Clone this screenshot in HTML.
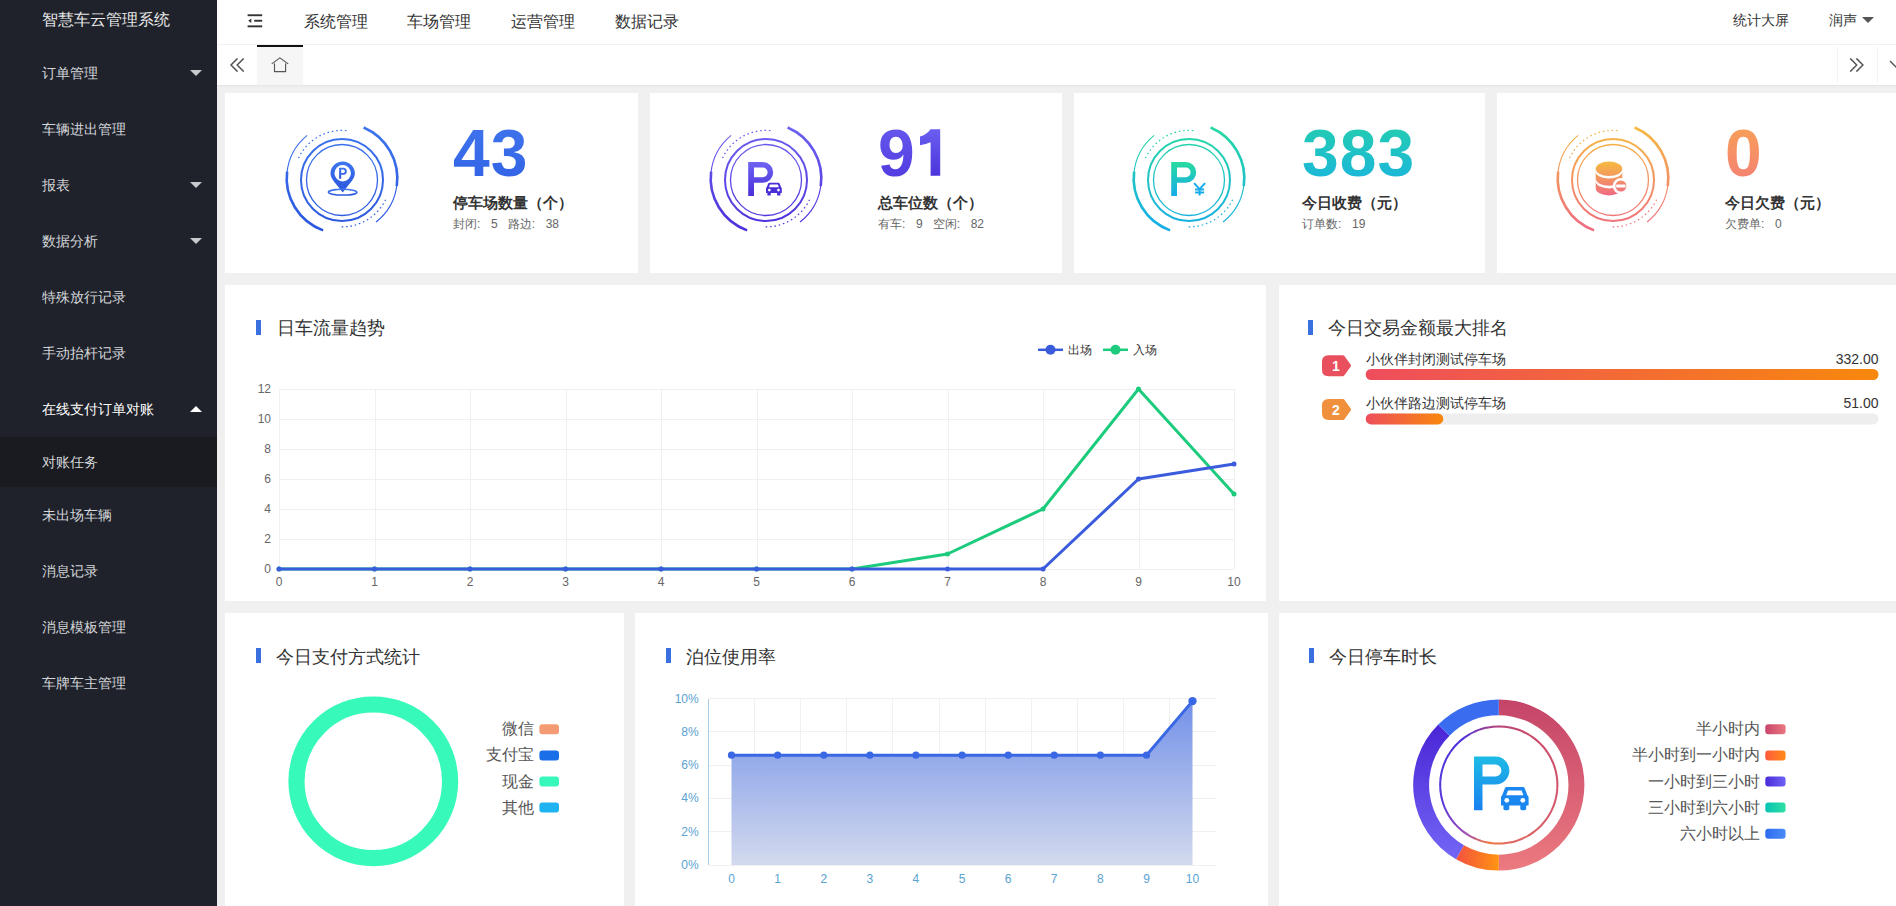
<!DOCTYPE html>
<html>
<head>
<meta charset="utf-8">
<style>
*{box-sizing:border-box;margin:0;padding:0;}
html,body{width:1896px;height:906px;overflow:hidden;background:#f0f0f0;font-family:"Liberation Sans",sans-serif;}
.abs{position:absolute;}
#side{position:absolute;left:0;top:0;width:217px;height:906px;background:#1f222a;}
#logo{position:absolute;left:0;top:0;width:217px;height:45px;color:#e8e8e8;font-size:16px;line-height:40px;padding-left:42px;}
.mi{position:absolute;left:0;width:217px;height:56px;line-height:56px;padding-left:42px;font-size:14px;color:#d4d6da;}
.mi.act{color:#fff;}
.mi .ar{position:absolute;left:190px;top:25px;width:0;height:0;border-left:6px solid transparent;border-right:6px solid transparent;border-top:6px solid #c8cacf;}
.mi .ar.up{border-top:none;border-bottom:6px solid #fff;}
.sub{position:absolute;left:0;width:217px;height:50px;line-height:50px;padding-left:42px;font-size:14px;color:#d4d6da;background:#1a1b20;}
#hdr{position:absolute;left:217px;top:0;width:1679px;height:45px;background:#fff;border-bottom:1px solid #f2f2f2;}
.nav{position:absolute;top:0;line-height:43px;font-size:16px;color:#333;}
#tabs{position:absolute;left:217px;top:45px;width:1679px;height:40px;background:#fff;box-shadow:0 1px 2px rgba(0,0,0,.06);}
.card{position:absolute;background:#fff;overflow:hidden;}
.num{position:absolute;font-size:66px;font-weight:bold;line-height:80px;letter-spacing:0px;}
.stt{position:absolute;font-size:15px;font-weight:bold;color:#333;line-height:20px;white-space:nowrap;}
.sts{position:absolute;font-size:12px;color:#666;line-height:16px;white-space:nowrap;}
.ttl{position:absolute;font-size:18px;color:#333;line-height:24px;white-space:nowrap;}
.bar{position:absolute;width:5px;height:15px;background:#3a6fe0;}
</style>
</head>
<body>
<div id="side">
  <div id="logo">智慧车云管理系统</div>
  <div class="mi" style="top:45px">订单管理<i class="ar"></i></div>
  <div class="mi" style="top:101px">车辆进出管理</div>
  <div class="mi" style="top:157px">报表<i class="ar"></i></div>
  <div class="mi" style="top:213px">数据分析<i class="ar"></i></div>
  <div class="mi" style="top:269px">特殊放行记录</div>
  <div class="mi" style="top:325px">手动抬杆记录</div>
  <div class="mi act" style="top:381px">在线支付订单对账<i class="ar up"></i></div>
  <div class="sub" style="top:437px">对账任务</div>
  <div class="mi" style="top:487px">未出场车辆</div>
  <div class="mi" style="top:543px">消息记录</div>
  <div class="mi" style="top:599px">消息模板管理</div>
  <div class="mi" style="top:655px">车牌车主管理</div>
</div>
<div id="hdr">
  <svg class="abs" style="left:30px;top:14px" width="16" height="14" viewBox="0 0 16 14"><rect x="0.6" y="0.3" width="14.6" height="1.9" fill="#333"/><rect x="7.2" y="5.8" width="8" height="1.9" fill="#333"/><rect x="0.6" y="11.4" width="14.6" height="1.9" fill="#333"/><path d="M1.2 6.8 L4.3 4.6 L4.3 9 Z" fill="#333"/></svg>
  <div class="nav" style="left:87px">系统管理</div>
  <div class="nav" style="left:190px">车场管理</div>
  <div class="nav" style="left:294px">运营管理</div>
  <div class="nav" style="left:398px">数据记录</div>
  <div class="nav" style="left:1516px;font-size:14px;line-height:40px">统计大屏</div>
  <div class="nav" style="left:1612px;font-size:14px;line-height:40px">润声</div>
  <i class="abs" style="left:1645px;top:17px;width:0;height:0;border-left:6px solid transparent;border-right:6px solid transparent;border-top:6px solid #555"></i>
</div>
<div id="tabs">
  <svg class="abs" style="left:12px;top:13px" width="16" height="14" viewBox="0 0 15 14"><path d="M8 0.4 L1.5 7 L8 13.6 M14.2 0.4 L7.7 7 L14.2 13.6" fill="none" stroke="#555" stroke-width="1.5"/></svg>
  <div class="abs" style="left:40px;top:0;width:46px;height:40px;background:#f6f6f6;border-top:2px solid #111"></div>
  <svg class="abs" style="left:54px;top:12px" width="18" height="16" viewBox="0 0 18 16"><path d="M1.1 6.6 L8.9 0.9 L16.8 6.6 M3.5 6.9 V14.6 H14.6 V6.9" fill="none" stroke="#555" stroke-width="1.15" stroke-linecap="round" stroke-linejoin="round"/></svg>
  <div class="abs" style="left:1620px;top:2px;width:1px;height:35px;background:#f2f2f2"></div>
  <div class="abs" style="left:1660px;top:2px;width:1px;height:35px;background:#f2f2f2"></div>
  <svg class="abs" style="left:1632px;top:13px" width="15" height="14" viewBox="0 0 15 14"><path d="M1.2 0.4 L7.7 7 L1.2 13.6 M7.4 0.4 L13.9 7 L7.4 13.6" fill="none" stroke="#555" stroke-width="1.5"/></svg>
  <svg class="abs" style="left:1672px;top:15px" width="16" height="10" viewBox="0 0 16 10"><path d="M1 1 L8 8 L15 1" fill="none" stroke="#555" stroke-width="1.4"/></svg>
</div>
<div class="card" style="left:225px;top:93px;width:413px;height:180px"><div class="abs" style="left:52px;top:22px"><svg width="130" height="130" viewBox="0 0 130 130"><defs><linearGradient id="g1" gradientUnits="userSpaceOnUse" x1="0" y1="10" x2="0" y2="120"><stop offset="0" stop-color="#3d76ef"/><stop offset="1" stop-color="#2b55dd"/></linearGradient><linearGradient id="ig1" x1="0" y1="0" x2="0" y2="1"><stop offset="0" stop-color="#3d76ef"/><stop offset="1" stop-color="#2b55dd"/></linearGradient><linearGradient id="cg1" gradientUnits="userSpaceOnUse" x1="0" y1="46" x2="0" y2="81"><stop offset="0" stop-color="#3d76ef"/><stop offset="1" stop-color="#2b55dd"/></linearGradient></defs><g fill="none" stroke="url(#g1)"><circle cx="65" cy="65" r="35.5" stroke-width="1.3"/><circle cx="65" cy="65" r="41" stroke-width="2"/><g transform="translate(0,-1.6)"><path d="M21.50 44.71 A48 48 0 0 1 70.85 17.36" stroke-width="1.2" stroke-dasharray="1.6 2.8"/><path d="M108.59 86.26 A48.5 48.5 0 0 1 62.46 113.43" stroke-width="1.2" stroke-dasharray="1.6 2.8"/><path d="M86.61 14.10 A55.3 55.3 0 0 1 119.76 72.70" stroke-width="2.6"/><path d="M119.89 71.74 A55.3 55.3 0 0 1 99.05 108.58" stroke-width="1.1"/><path d="M46.09 116.97 A55.3 55.3 0 0 1 10.11 58.26" stroke-width="2.6"/><path d="M10.00 59.22 A55.3 55.3 0 0 1 30.20 22.02" stroke-width="1.1"/></g></g><g transform="translate(65.7,58.6)"><path d="M0 -12 C6.8 -12 12.2 -6.8 12.2 -0.2 C12.2 5.5 6 10.5 0 18.8 C-6 10.5 -12.2 5.5 -12.2 -0.2 C-12.2 -6.8 -6.8 -12 0 -12 Z" fill="url(#ig1)"/><circle cx="0" cy="-0.3" r="8.2" fill="#fff"/><path fill-rule="evenodd" fill="url(#ig1)" d="M-3.6 5.2 V-5.8 H0.6 A3.5 3.5 0 0 1 0.6 1.2 H-1.5 V5.2 Z M-1.5 -4 H0.5 A1.7 1.7 0 0 1 0.5 -0.6 H-1.5 Z"/><ellipse cx="0" cy="18.6" rx="14.3" ry="2.9" fill="none" stroke="url(#ig1)" stroke-width="1.5"/></g></svg></div><div class="num" style="left:228px;top:20px;letter-spacing:1px;background:linear-gradient(180deg,#4277ee,#2f60e4);-webkit-background-clip:text;background-clip:text;color:transparent">43</div><div class="stt" style="left:228px;top:100px">停车场数量（个）</div><div class="sts" style="left:228px;top:123px"><span>封闭</span><span style="display:inline-block;width:14px">:</span>5<span style='margin-left:10px'>路边</span><span style="display:inline-block;width:14px">:</span>38</div></div>
<div class="card" style="left:650px;top:93px;width:412px;height:180px"><div class="abs" style="left:51px;top:22px"><svg width="130" height="130" viewBox="0 0 130 130"><defs><linearGradient id="g2" gradientUnits="userSpaceOnUse" x1="0" y1="10" x2="0" y2="120"><stop offset="0" stop-color="#6f63f2"/><stop offset="1" stop-color="#4a2fd9"/></linearGradient><linearGradient id="ig2" x1="0" y1="0" x2="0" y2="1"><stop offset="0" stop-color="#6f63f2"/><stop offset="1" stop-color="#4a2fd9"/></linearGradient><linearGradient id="cg2" gradientUnits="userSpaceOnUse" x1="0" y1="46" x2="0" y2="81"><stop offset="0" stop-color="#6f63f2"/><stop offset="1" stop-color="#4a2fd9"/></linearGradient></defs><g fill="none" stroke="url(#g2)"><circle cx="65" cy="65" r="35.5" stroke-width="1.3"/><circle cx="65" cy="65" r="41" stroke-width="2"/><g transform="translate(0,-1.6)"><path d="M21.50 44.71 A48 48 0 0 1 70.85 17.36" stroke-width="1.2" stroke-dasharray="1.6 2.8"/><path d="M108.59 86.26 A48.5 48.5 0 0 1 62.46 113.43" stroke-width="1.2" stroke-dasharray="1.6 2.8"/><path d="M86.61 14.10 A55.3 55.3 0 0 1 119.76 72.70" stroke-width="2.6"/><path d="M119.89 71.74 A55.3 55.3 0 0 1 99.05 108.58" stroke-width="1.1"/><path d="M46.09 116.97 A55.3 55.3 0 0 1 10.11 58.26" stroke-width="2.6"/><path d="M10.00 59.22 A55.3 55.3 0 0 1 30.20 22.02" stroke-width="1.1"/></g></g><g transform="translate(47.2,47)"><path fill-rule="evenodd" fill="url(#ig2)" d="M0 34 V0 H14.6 A10.4 10.4 0 0 1 14.6 20.8 H5.8 V34 Z M5.8 5.6 H14.6 A4.8 4.8 0 0 1 14.6 15.2 H5.8 Z"/></g><g transform="translate(65,67.6) scale(0.5725,0.555)" fill="#4a2fd9"><path d="M5.6 0.3 H22 Q23.2 0.3 23.7 1.4 L26.4 8.4 Q27.6 9 27.6 10.8 V18.6 H0 V10.8 Q0 9 1.2 8.4 L3.9 1.4 Q4.4 0.3 5.6 0.3 Z"/><rect x="2.4" y="16" width="5.9" height="7.4" rx="1.6"/><rect x="19.3" y="16" width="5.9" height="7.4" rx="1.6"/><path d="M7 3.6 H20.6 L22.4 8.4 H5.2 Z" fill="#fff"/><circle cx="5.8" cy="13.5" r="2.4" fill="#fff"/><circle cx="21.8" cy="13.5" r="2.4" fill="#fff"/></g></svg></div><svg class="abs" style="left:269px;top:31px" width="30" height="60" viewBox="919 124 30 60"><defs><linearGradient id="n1g" gradientUnits="userSpaceOnUse" x1="0" y1="129" x2="0" y2="176"><stop offset="0" stop-color="#6a5ff0"/><stop offset="1" stop-color="#4c34dc"/></linearGradient></defs><path d="M930.6 129.2 H940.2 V175.8 H930.6 V142.2 Q926 144.2 920 145.2 V136.6 Q926.5 134.6 930.6 129.2 Z" fill="url(#n1g)"/></svg><div class="num" style="left:228px;top:20px;letter-spacing:1px;background:linear-gradient(180deg,#6a5ff0,#4c34dc);-webkit-background-clip:text;background-clip:text;color:transparent">9</div><div class="stt" style="left:228px;top:100px">总车位数（个）</div><div class="sts" style="left:228px;top:123px"><span>有车</span><span style="display:inline-block;width:14px">:</span>9<span style='margin-left:10px'>空闲</span><span style="display:inline-block;width:14px">:</span>82</div></div>
<div class="card" style="left:1074px;top:93px;width:411px;height:180px"><div class="abs" style="left:49.5px;top:22px"><svg width="130" height="130" viewBox="0 0 130 130"><defs><linearGradient id="g3" gradientUnits="userSpaceOnUse" x1="0" y1="10" x2="0" y2="120"><stop offset="0" stop-color="#27dba0"/><stop offset="1" stop-color="#16abea"/></linearGradient><linearGradient id="ig3" x1="0" y1="0" x2="0" y2="1"><stop offset="0" stop-color="#27dba0"/><stop offset="1" stop-color="#16abea"/></linearGradient><linearGradient id="cg3" gradientUnits="userSpaceOnUse" x1="0" y1="46" x2="0" y2="81"><stop offset="0" stop-color="#27dba0"/><stop offset="1" stop-color="#16abea"/></linearGradient></defs><g fill="none" stroke="url(#g3)"><circle cx="65" cy="65" r="35.5" stroke-width="1.3"/><circle cx="65" cy="65" r="41" stroke-width="2"/><g transform="translate(0,-1.6)"><path d="M21.50 44.71 A48 48 0 0 1 70.85 17.36" stroke-width="1.2" stroke-dasharray="1.6 2.8"/><path d="M108.59 86.26 A48.5 48.5 0 0 1 62.46 113.43" stroke-width="1.2" stroke-dasharray="1.6 2.8"/><path d="M86.61 14.10 A55.3 55.3 0 0 1 119.76 72.70" stroke-width="2.6"/><path d="M119.89 71.74 A55.3 55.3 0 0 1 99.05 108.58" stroke-width="1.1"/><path d="M46.09 116.97 A55.3 55.3 0 0 1 10.11 58.26" stroke-width="2.6"/><path d="M10.00 59.22 A55.3 55.3 0 0 1 30.20 22.02" stroke-width="1.1"/></g></g><g transform="translate(47.2,47)"><path fill-rule="evenodd" fill="url(#ig3)" d="M0 34 V0 H14.6 A10.4 10.4 0 0 1 14.6 20.8 H5.8 V34 Z M5.8 5.6 H14.6 A4.8 4.8 0 0 1 14.6 15.2 H5.8 Z"/></g><g transform="translate(69.6,67.6)" fill="none" stroke="#16abea" stroke-width="2"><path d="M0.5 0.5 L6 6.5 L11.5 0.5 M6 6.5 V13 M1.5 7 H10.5 M1.5 10 H10.5"/></g></svg></div><div class="num" style="left:228px;top:20px;letter-spacing:1px;background:linear-gradient(180deg,#25d1a8,#19b2e3);-webkit-background-clip:text;background-clip:text;color:transparent">383</div><div class="stt" style="left:228px;top:100px">今日收费（元）</div><div class="sts" style="left:228px;top:123px"><span>订单数</span><span style="display:inline-block;width:14px">:</span>19</div></div>
<div class="card" style="left:1497px;top:93px;width:412px;height:180px"><div class="abs" style="left:50.5px;top:22px"><svg width="130" height="130" viewBox="0 0 130 130"><defs><linearGradient id="g4" gradientUnits="userSpaceOnUse" x1="0" y1="10" x2="0" y2="120"><stop offset="0" stop-color="#f6bc3e"/><stop offset="1" stop-color="#ef6a85"/></linearGradient><linearGradient id="ig4" x1="0" y1="0" x2="0" y2="1"><stop offset="0" stop-color="#f6bc3e"/><stop offset="1" stop-color="#ef6a85"/></linearGradient><linearGradient id="cg4" gradientUnits="userSpaceOnUse" x1="0" y1="46" x2="0" y2="81"><stop offset="0" stop-color="#f6bc3e"/><stop offset="1" stop-color="#ef6a85"/></linearGradient></defs><g fill="none" stroke="url(#g4)"><circle cx="65" cy="65" r="35.5" stroke-width="1.3"/><circle cx="65" cy="65" r="41" stroke-width="2"/><g transform="translate(0,-1.6)"><path d="M21.50 44.71 A48 48 0 0 1 70.85 17.36" stroke-width="1.2" stroke-dasharray="1.6 2.8"/><path d="M108.59 86.26 A48.5 48.5 0 0 1 62.46 113.43" stroke-width="1.2" stroke-dasharray="1.6 2.8"/><path d="M86.61 14.10 A55.3 55.3 0 0 1 119.76 72.70" stroke-width="2.6"/><path d="M119.89 71.74 A55.3 55.3 0 0 1 99.05 108.58" stroke-width="1.1"/><path d="M46.09 116.97 A55.3 55.3 0 0 1 10.11 58.26" stroke-width="2.6"/><path d="M10.00 59.22 A55.3 55.3 0 0 1 30.20 22.02" stroke-width="1.1"/></g></g><g fill="url(#cg4)"><ellipse cx="61" cy="53.8" rx="13.3" ry="7.2"/><path d="M47.7 56.4 A13.3 7.2 0 0 0 74.3 56.4 V63.6 A13.3 7.2 0 0 1 47.7 63.6 Z"/><path d="M47.7 66.2 A13.3 7.2 0 0 0 74.3 66.2 V73.2 A13.3 7.2 0 0 1 47.7 73.2 Z"/><circle cx="72.9" cy="71" r="6.8" stroke="#fff" stroke-width="2.6"/></g><rect x="68.2" y="69.6" width="9.4" height="2.9" rx="0.5" fill="#fff"/></svg></div><div class="num" style="left:228px;top:20px;letter-spacing:1px;background:linear-gradient(180deg,#f8a752,#f47a78);-webkit-background-clip:text;background-clip:text;color:transparent">0</div><div class="stt" style="left:228px;top:100px">今日欠费（元）</div><div class="sts" style="left:228px;top:123px"><span>欠费单</span><span style="display:inline-block;width:14px">:</span>0</div></div>

<div class="card" style="left:225px;top:285px;width:1041px;height:316px"><div class="bar" style="left:31px;top:35px"></div><div class="ttl" style="left:52px;top:31px">日车流量趋势</div><svg class="abs" style="left:0;top:0" width="1042" height="316"><g stroke="#f0f0f0" stroke-width="1" shape-rendering="crispEdges"><line x1="54" y1="104.5" x2="1009.0" y2="104.5"/><line x1="54" y1="134.5" x2="1009.0" y2="134.5"/><line x1="54" y1="164.5" x2="1009.0" y2="164.5"/><line x1="54" y1="194.5" x2="1009.0" y2="194.5"/><line x1="54" y1="224.5" x2="1009.0" y2="224.5"/><line x1="54" y1="254.5" x2="1009.0" y2="254.5"/><line x1="54" y1="284.5" x2="1009.0" y2="284.5"/><line x1="54.5" y1="104" x2="54.5" y2="284"/><line x1="150.0" y1="104" x2="150.0" y2="284"/><line x1="245.5" y1="104" x2="245.5" y2="284"/><line x1="341.0" y1="104" x2="341.0" y2="284"/><line x1="436.5" y1="104" x2="436.5" y2="284"/><line x1="532.0" y1="104" x2="532.0" y2="284"/><line x1="627.5" y1="104" x2="627.5" y2="284"/><line x1="723.0" y1="104" x2="723.0" y2="284"/><line x1="818.5" y1="104" x2="818.5" y2="284"/><line x1="914.0" y1="104" x2="914.0" y2="284"/><line x1="1009.5" y1="104" x2="1009.5" y2="284"/></g><g font-family="Liberation Sans" font-size="12" fill="#666"><text x="46" y="107.5" text-anchor="end">12</text><text x="46" y="137.5" text-anchor="end">10</text><text x="46" y="167.5" text-anchor="end">8</text><text x="46" y="197.5" text-anchor="end">6</text><text x="46" y="227.5" text-anchor="end">4</text><text x="46" y="257.5" text-anchor="end">2</text><text x="46" y="287.5" text-anchor="end">0</text><text x="54.0" y="301.0" text-anchor="middle">0</text><text x="149.5" y="301.0" text-anchor="middle">1</text><text x="245.0" y="301.0" text-anchor="middle">2</text><text x="340.5" y="301.0" text-anchor="middle">3</text><text x="436.0" y="301.0" text-anchor="middle">4</text><text x="531.5" y="301.0" text-anchor="middle">5</text><text x="627.0" y="301.0" text-anchor="middle">6</text><text x="722.5" y="301.0" text-anchor="middle">7</text><text x="818.0" y="301.0" text-anchor="middle">8</text><text x="913.5" y="301.0" text-anchor="middle">9</text><text x="1009.0" y="301.0" text-anchor="middle">10</text></g><polyline points="54.0,284.0 149.5,284.0 245.0,284.0 340.5,284.0 436.0,284.0 531.5,284.0 627.0,284.0 722.5,269.0 818.0,224.0 913.5,104.0 1009.0,209.0" fill="none" stroke="#1ccb7c" stroke-width="3" stroke-linejoin="round"/><circle cx="54.0" cy="284.0" r="2.5" fill="#1ccb7c"/><circle cx="149.5" cy="284.0" r="2.5" fill="#1ccb7c"/><circle cx="245.0" cy="284.0" r="2.5" fill="#1ccb7c"/><circle cx="340.5" cy="284.0" r="2.5" fill="#1ccb7c"/><circle cx="436.0" cy="284.0" r="2.5" fill="#1ccb7c"/><circle cx="531.5" cy="284.0" r="2.5" fill="#1ccb7c"/><circle cx="627.0" cy="284.0" r="2.5" fill="#1ccb7c"/><circle cx="722.5" cy="269.0" r="2.5" fill="#1ccb7c"/><circle cx="818.0" cy="224.0" r="2.5" fill="#1ccb7c"/><circle cx="913.5" cy="104.0" r="2.5" fill="#1ccb7c"/><circle cx="1009.0" cy="209.0" r="2.5" fill="#1ccb7c"/><polyline points="54.0,284.0 149.5,284.0 245.0,284.0 340.5,284.0 436.0,284.0 531.5,284.0 627.0,284.0 722.5,284.0 818.0,284.0 913.5,194.0 1009.0,179.0" fill="none" stroke="#3a5cdc" stroke-width="3" stroke-linejoin="round"/><circle cx="54.0" cy="284.0" r="2.5" fill="#3a5cdc"/><circle cx="149.5" cy="284.0" r="2.5" fill="#3a5cdc"/><circle cx="245.0" cy="284.0" r="2.5" fill="#3a5cdc"/><circle cx="340.5" cy="284.0" r="2.5" fill="#3a5cdc"/><circle cx="436.0" cy="284.0" r="2.5" fill="#3a5cdc"/><circle cx="531.5" cy="284.0" r="2.5" fill="#3a5cdc"/><circle cx="627.0" cy="284.0" r="2.5" fill="#3a5cdc"/><circle cx="722.5" cy="284.0" r="2.5" fill="#3a5cdc"/><circle cx="818.0" cy="284.0" r="2.5" fill="#3a5cdc"/><circle cx="913.5" cy="194.0" r="2.5" fill="#3a5cdc"/><circle cx="1009.0" cy="179.0" r="2.5" fill="#3a5cdc"/><line x1="813" y1="64.80000000000001" x2="838" y2="64.80000000000001" stroke="#3a5cdc" stroke-width="2.5"/><circle cx="825.5" cy="64.80000000000001" r="5" fill="#3a5cdc"/><text x="843" y="69.30000000000001" font-family="Liberation Sans" font-size="12" fill="#333">出场</text><line x1="878" y1="64.80000000000001" x2="903" y2="64.80000000000001" stroke="#1ccb7c" stroke-width="2.5"/><circle cx="890.5" cy="64.80000000000001" r="5" fill="#1ccb7c"/><text x="908" y="69.30000000000001" font-family="Liberation Sans" font-size="12" fill="#333">入场</text></svg></div>

<div class="card" style="left:1279px;top:285px;width:640px;height:316px"><div class="bar" style="left:29px;top:35px"></div><div class="ttl" style="left:49px;top:31px">今日交易金额最大排名</div><svg class="abs" style="left:0;top:0" width="640" height="316"><defs><linearGradient id="rg" x1="0" y1="0" x2="1" y2="0"><stop offset="0" stop-color="#ee4d5c"/><stop offset="1" stop-color="#f8880c"/></linearGradient></defs><path d="M49.5 71.69999999999999 H64.0 L70.5 80.69999999999999 L64.0 89.69999999999999 H49.5 Q44.5 89.69999999999999 44.5 84.69999999999999 V76.69999999999999 Q44.5 71.69999999999999 49.5 71.69999999999999 Z" fill="#e9505d" stroke="#e9505d" stroke-width="3" stroke-linejoin="round"/><text x="57.0" y="85.69999999999999" text-anchor="middle" font-family="Liberation Sans" font-weight="bold" font-size="14" fill="#fff">1</text><rect x="86.70000000000005" y="84" width="512.8" height="11" rx="5.5" fill="#eeeeee"/><rect x="86.70000000000005" y="84" width="512.8" height="11" rx="5.5" fill="url(#rg)"/><text x="86.70000000000005" y="79" font-family="Liberation Sans" font-size="14" fill="#333">小伙伴封闭测试停车场</text><text x="599.5" y="79" text-anchor="end" font-family="Liberation Sans" font-size="14" fill="#333">332.00</text><path d="M49.5 115.5 H64.0 L70.5 124.5 L64.0 133.5 H49.5 Q44.5 133.5 44.5 128.5 V120.5 Q44.5 115.5 49.5 115.5 Z" fill="#f0903d" stroke="#f0903d" stroke-width="3" stroke-linejoin="round"/><text x="57.0" y="129.5" text-anchor="middle" font-family="Liberation Sans" font-weight="bold" font-size="14" fill="#fff">2</text><rect x="86.70000000000005" y="128.39999999999998" width="512.8" height="11" rx="5.5" fill="#eeeeee"/><rect x="86.70000000000005" y="128.39999999999998" width="77.59999999999991" height="11" rx="5.5" fill="url(#rg)"/><text x="86.70000000000005" y="122.80000000000001" font-family="Liberation Sans" font-size="14" fill="#333">小伙伴路边测试停车场</text><text x="599.5" y="122.80000000000001" text-anchor="end" font-family="Liberation Sans" font-size="14" fill="#333">51.00</text></svg></div>

<div class="card" style="left:225px;top:613px;width:399px;height:300px"><div class="bar" style="left:31px;top:35px"></div><div class="ttl" style="left:51px;top:31.5px">今日支付方式统计</div><svg class="abs" style="left:0;top:0" width="399" height="300"><circle cx="148.3" cy="168.29999999999995" r="76.8" fill="none" stroke="#37f9b9" stroke-width="16.2"/><text x="308.70000000000005" y="121.29999999999995" text-anchor="end" font-family="Liberation Sans" font-size="16" fill="#555">微信</text><rect x="314.4" y="111.29999999999995" width="19.6" height="10" rx="3" fill="#f59b74"/><text x="308.70000000000005" y="147.39999999999998" text-anchor="end" font-family="Liberation Sans" font-size="16" fill="#555">支付宝</text><rect x="314.4" y="137.39999999999998" width="19.6" height="10" rx="3" fill="#1a6fe8"/><text x="308.70000000000005" y="173.5" text-anchor="end" font-family="Liberation Sans" font-size="16" fill="#555">现金</text><rect x="314.4" y="163.5" width="19.6" height="10" rx="3" fill="#37f7bb"/><text x="308.70000000000005" y="199.5999999999999" text-anchor="end" font-family="Liberation Sans" font-size="16" fill="#555">其他</text><rect x="314.4" y="189.5999999999999" width="19.6" height="10" rx="3" fill="#1fb4f1"/></svg></div>

<div class="card" style="left:635px;top:613px;width:633px;height:300px"><div class="bar" style="left:31px;top:35px"></div><div class="ttl" style="left:51px;top:31.5px">泊位使用率</div><svg class="abs" style="left:0;top:0" width="633" height="300"><defs><linearGradient id="ag" x1="0" y1="0" x2="0" y2="1"><stop offset="0" stop-color="#7391e8"/><stop offset="1" stop-color="#d3daee"/></linearGradient></defs><g stroke="#f0f0f0" stroke-width="1" shape-rendering="crispEdges"><line x1="73.5" y1="85.6" x2="580.6" y2="85.6"/><line x1="73.5" y1="118.9" x2="580.6" y2="118.9"/><line x1="73.5" y1="152.2" x2="580.6" y2="152.2"/><line x1="73.5" y1="185.4" x2="580.6" y2="185.4"/><line x1="73.5" y1="218.7" x2="580.6" y2="218.7"/><line x1="73.5" y1="252.0" x2="580.6" y2="252.0"/><line x1="119.6" y1="85.60000000000002" x2="119.6" y2="252"/><line x1="165.7" y1="85.60000000000002" x2="165.7" y2="252"/><line x1="211.8" y1="85.60000000000002" x2="211.8" y2="252"/><line x1="257.9" y1="85.60000000000002" x2="257.9" y2="252"/><line x1="304.0" y1="85.60000000000002" x2="304.0" y2="252"/><line x1="350.1" y1="85.60000000000002" x2="350.1" y2="252"/><line x1="396.2" y1="85.60000000000002" x2="396.2" y2="252"/><line x1="442.3" y1="85.60000000000002" x2="442.3" y2="252"/><line x1="488.4" y1="85.60000000000002" x2="488.4" y2="252"/><line x1="534.5" y1="85.60000000000002" x2="534.5" y2="252"/></g><line x1="73.5" y1="85.60000000000002" x2="73.5" y2="252" stroke="#a9cbe6" stroke-width="1" shape-rendering="crispEdges"/><g font-family="Liberation Sans" font-size="12" fill="#5aa2d2"><text x="63.700000000000045" y="89.60000000000002" text-anchor="end">10%</text><text x="63.700000000000045" y="122.88000000000002" text-anchor="end">8%</text><text x="63.700000000000045" y="156.16000000000003" text-anchor="end">6%</text><text x="63.700000000000045" y="189.44" text-anchor="end">4%</text><text x="63.700000000000045" y="222.72" text-anchor="end">2%</text><text x="63.700000000000045" y="256.0" text-anchor="end">0%</text><text x="96.5" y="269.5" text-anchor="middle">0</text><text x="142.7" y="269.5" text-anchor="middle">1</text><text x="188.8" y="269.5" text-anchor="middle">2</text><text x="234.9" y="269.5" text-anchor="middle">3</text><text x="280.9" y="269.5" text-anchor="middle">4</text><text x="327.1" y="269.5" text-anchor="middle">5</text><text x="373.2" y="269.5" text-anchor="middle">6</text><text x="419.2" y="269.5" text-anchor="middle">7</text><text x="465.4" y="269.5" text-anchor="middle">8</text><text x="511.5" y="269.5" text-anchor="middle">9</text><text x="557.5" y="269.5" text-anchor="middle">10</text></g><polygon points="96.5,252 96.5,142.2 142.7,142.2 188.8,142.2 234.9,142.2 280.9,142.2 327.1,142.2 373.2,142.2 419.2,142.2 465.4,142.2 511.5,142.2 557.5,88.1 557.5,252" fill="url(#ag)"/><polyline points="96.5,142.2 142.7,142.2 188.8,142.2 234.9,142.2 280.9,142.2 327.1,142.2 373.2,142.2 419.2,142.2 465.4,142.2 511.5,142.2 557.5,88.1" fill="none" stroke="#3a68e4" stroke-width="3"/><circle cx="96.5" cy="142.2" r="3.6" fill="#3a68e4"/><circle cx="142.7" cy="142.2" r="3.6" fill="#3a68e4"/><circle cx="188.8" cy="142.2" r="3.6" fill="#3a68e4"/><circle cx="234.9" cy="142.2" r="3.6" fill="#3a68e4"/><circle cx="280.9" cy="142.2" r="3.6" fill="#3a68e4"/><circle cx="327.1" cy="142.2" r="3.6" fill="#3a68e4"/><circle cx="373.2" cy="142.2" r="3.6" fill="#3a68e4"/><circle cx="419.2" cy="142.2" r="3.6" fill="#3a68e4"/><circle cx="465.4" cy="142.2" r="3.6" fill="#3a68e4"/><circle cx="511.5" cy="142.2" r="3.6" fill="#3a68e4"/><circle cx="557.5" cy="88.1" r="4.2" fill="#3a68e4"/></svg></div>

<div class="card" style="left:1279px;top:613px;width:640px;height:300px"><div class="bar" style="left:30px;top:35px"></div><div class="ttl" style="left:50px;top:31.5px">今日停车时长</div><svg class="abs" style="left:0;top:0" width="640" height="300"><defs><linearGradient id="d1" x1="0" y1="0" x2="1" y2="0"><stop offset="0" stop-color="#c9456b"/><stop offset="1" stop-color="#e9787f"/></linearGradient><linearGradient id="d2" x1="0" y1="0" x2="1" y2="0"><stop offset="0" stop-color="#ff5a3c"/><stop offset="1" stop-color="#ff8c1a"/></linearGradient><linearGradient id="d3" x1="0" y1="0" x2="1" y2="0"><stop offset="0" stop-color="#4a2bd8"/><stop offset="1" stop-color="#6f63f5"/></linearGradient><linearGradient id="d4" x1="0" y1="0" x2="1" y2="0"><stop offset="0" stop-color="#08c3b3"/><stop offset="1" stop-color="#2fe0a4"/></linearGradient><linearGradient id="d5" x1="0" y1="0" x2="1" y2="0"><stop offset="0" stop-color="#2d6cf0"/><stop offset="1" stop-color="#4b8cf6"/></linearGradient><linearGradient id="dr1" gradientUnits="userSpaceOnUse" x1="0" y1="86" x2="0" y2="258"><stop offset="0" stop-color="#c44468"/><stop offset="1" stop-color="#ec7a80"/></linearGradient><linearGradient id="dr2" gradientUnits="userSpaceOnUse" x1="179.79999999999995" y1="0" x2="219.79999999999995" y2="0"><stop offset="0" stop-color="#f5553e"/><stop offset="1" stop-color="#ff9412"/></linearGradient><linearGradient id="dr3" gradientUnits="userSpaceOnUse" x1="0" y1="112" x2="0" y2="242"><stop offset="0" stop-color="#4b25d6"/><stop offset="1" stop-color="#7164f4"/></linearGradient><linearGradient id="ring" gradientUnits="userSpaceOnUse" x1="159.79999999999995" y1="0" x2="279.79999999999995" y2="0"><stop offset="0" stop-color="#5a3ee0"/><stop offset="0.5" stop-color="#c04a90"/><stop offset="1" stop-color="#d6506a"/></linearGradient><linearGradient id="pg" x1="0" y1="0" x2="0" y2="1"><stop offset="0" stop-color="#1ebbe6"/><stop offset="1" stop-color="#1a80ef"/></linearGradient></defs><path d="M219.80 86.40 A85.6 85.6 0 0 1 219.80 257.60 L219.80 241.70 A69.7 69.7 0 0 0 219.80 102.30 Z" fill="url(#dr1)"/><path d="M219.80 257.60 A85.6 85.6 0 0 1 177.00 246.13 L184.95 232.36 A69.7 69.7 0 0 0 219.80 241.70 Z" fill="url(#dr2)"/><path d="M177.00 246.13 A85.6 85.6 0 0 1 159.27 111.47 L170.51 122.71 A69.7 69.7 0 0 0 184.95 232.36 Z" fill="url(#dr3)"/><path d="M159.27 111.47 A85.6 85.6 0 0 1 219.80 86.40 L219.80 102.30 A69.7 69.7 0 0 0 170.51 122.71 Z" fill="#3a6cf0"/><path d="M219.80 113.40 A58.6 58.6 0 0 1 226.33 113.77" fill="none" stroke="#ba4578" stroke-width="2"/><path d="M225.93 113.72 A58.6 58.6 0 0 1 232.38 114.77" fill="none" stroke="#bd4675" stroke-width="2"/><path d="M231.98 114.68 A58.6 58.6 0 0 1 238.30 116.40" fill="none" stroke="#c04671" stroke-width="2"/><path d="M237.91 116.27 A58.6 58.6 0 0 1 244.01 118.63" fill="none" stroke="#c4476d" stroke-width="2"/><path d="M243.63 118.47 A58.6 58.6 0 0 1 249.45 121.46" fill="none" stroke="#c7486a" stroke-width="2"/><path d="M249.10 121.25 A58.6 58.6 0 0 1 254.57 124.83" fill="none" stroke="#c94968" stroke-width="2"/><path d="M254.24 124.59 A58.6 58.6 0 0 1 259.31 128.73" fill="none" stroke="#ca4a68" stroke-width="2"/><path d="M259.01 128.45 A58.6 58.6 0 0 1 263.62 133.09" fill="none" stroke="#cb4b69" stroke-width="2"/><path d="M263.35 132.79 A58.6 58.6 0 0 1 267.45 137.89" fill="none" stroke="#cc4c69" stroke-width="2"/><path d="M267.21 137.56 A58.6 58.6 0 0 1 270.75 143.06" fill="none" stroke="#cd4d69" stroke-width="2"/><path d="M270.55 142.70 A58.6 58.6 0 0 1 273.50 148.54" fill="none" stroke="#cd4f69" stroke-width="2"/><path d="M273.33 148.17 A58.6 58.6 0 0 1 275.66 154.28" fill="none" stroke="#ce506a" stroke-width="2"/><path d="M275.53 153.89 A58.6 58.6 0 0 1 277.20 160.22" fill="none" stroke="#cf516a" stroke-width="2"/><path d="M277.12 159.82 A58.6 58.6 0 0 1 278.12 166.28" fill="none" stroke="#d0526a" stroke-width="2"/><path d="M278.08 165.87 A58.6 58.6 0 0 1 278.40 172.41" fill="none" stroke="#d1536b" stroke-width="2"/><path d="M278.40 172.00 A58.6 58.6 0 0 1 278.03 178.53" fill="none" stroke="#d1556b" stroke-width="2"/><path d="M278.08 178.13 A58.6 58.6 0 0 1 277.03 184.58" fill="none" stroke="#d2566b" stroke-width="2"/><path d="M277.12 184.18 A58.6 58.6 0 0 1 275.40 190.50" fill="none" stroke="#d3576b" stroke-width="2"/><path d="M275.53 190.11 A58.6 58.6 0 0 1 273.17 196.21" fill="none" stroke="#d4586c" stroke-width="2"/><path d="M273.33 195.83 A58.6 58.6 0 0 1 270.34 201.65" fill="none" stroke="#d5596c" stroke-width="2"/><path d="M270.55 201.30 A58.6 58.6 0 0 1 266.97 206.77" fill="none" stroke="#d65b6b" stroke-width="2"/><path d="M267.21 206.44 A58.6 58.6 0 0 1 263.07 211.51" fill="none" stroke="#d75d6a" stroke-width="2"/><path d="M263.35 211.21 A58.6 58.6 0 0 1 258.71 215.82" fill="none" stroke="#d85f69" stroke-width="2"/><path d="M259.01 215.55 A58.6 58.6 0 0 1 253.91 219.65" fill="none" stroke="#da6168" stroke-width="2"/><path d="M254.24 219.41 A58.6 58.6 0 0 1 248.74 222.95" fill="none" stroke="#db6367" stroke-width="2"/><path d="M249.10 222.75 A58.6 58.6 0 0 1 243.26 225.70" fill="none" stroke="#dc6565" stroke-width="2"/><path d="M243.63 225.53 A58.6 58.6 0 0 1 237.52 227.86" fill="none" stroke="#de6664" stroke-width="2"/><path d="M237.91 227.73 A58.6 58.6 0 0 1 231.58 229.40" fill="none" stroke="#df6863" stroke-width="2"/><path d="M231.98 229.32 A58.6 58.6 0 0 1 225.52 230.32" fill="none" stroke="#e16b60" stroke-width="2"/><path d="M225.93 230.28 A58.6 58.6 0 0 1 219.39 230.60" fill="none" stroke="#e67055" stroke-width="2"/><path d="M219.80 230.60 A58.6 58.6 0 0 1 213.27 230.23" fill="none" stroke="#ea7449" stroke-width="2"/><path d="M213.67 230.28 A58.6 58.6 0 0 1 207.22 229.23" fill="none" stroke="#ef793e" stroke-width="2"/><path d="M207.62 229.32 A58.6 58.6 0 0 1 201.30 227.60" fill="none" stroke="#df7055" stroke-width="2"/><path d="M201.69 227.73 A58.6 58.6 0 0 1 195.59 225.37" fill="none" stroke="#ca6573" stroke-width="2"/><path d="M195.97 225.53 A58.6 58.6 0 0 1 190.15 222.54" fill="none" stroke="#b65990" stroke-width="2"/><path d="M190.50 222.75 A58.6 58.6 0 0 1 185.03 219.17" fill="none" stroke="#a14eae" stroke-width="2"/><path d="M185.36 219.41 A58.6 58.6 0 0 1 180.29 215.27" fill="none" stroke="#9348bc" stroke-width="2"/><path d="M180.59 215.55 A58.6 58.6 0 0 1 175.98 210.91" fill="none" stroke="#8845c1" stroke-width="2"/><path d="M176.25 211.21 A58.6 58.6 0 0 1 172.15 206.11" fill="none" stroke="#7d43c7" stroke-width="2"/><path d="M172.39 206.44 A58.6 58.6 0 0 1 168.85 200.94" fill="none" stroke="#7240cc" stroke-width="2"/><path d="M169.05 201.30 A58.6 58.6 0 0 1 166.10 195.46" fill="none" stroke="#673dd2" stroke-width="2"/><path d="M166.27 195.83 A58.6 58.6 0 0 1 163.94 189.72" fill="none" stroke="#5c3ad7" stroke-width="2"/><path d="M164.07 190.11 A58.6 58.6 0 0 1 162.40 183.78" fill="none" stroke="#5939d8" stroke-width="2"/><path d="M162.48 184.18 A58.6 58.6 0 0 1 161.48 177.72" fill="none" stroke="#5738d9" stroke-width="2"/><path d="M161.52 178.13 A58.6 58.6 0 0 1 161.20 171.59" fill="none" stroke="#5638d9" stroke-width="2"/><path d="M161.20 172.00 A58.6 58.6 0 0 1 161.57 165.47" fill="none" stroke="#5537d9" stroke-width="2"/><path d="M161.52 165.87 A58.6 58.6 0 0 1 162.57 159.42" fill="none" stroke="#5336da" stroke-width="2"/><path d="M162.48 159.82 A58.6 58.6 0 0 1 164.20 153.50" fill="none" stroke="#5235da" stroke-width="2"/><path d="M164.07 153.89 A58.6 58.6 0 0 1 166.43 147.79" fill="none" stroke="#5134da" stroke-width="2"/><path d="M166.27 148.17 A58.6 58.6 0 0 1 169.26 142.35" fill="none" stroke="#4f33db" stroke-width="2"/><path d="M169.05 142.70 A58.6 58.6 0 0 1 172.63 137.23" fill="none" stroke="#4e32db" stroke-width="2"/><path d="M172.39 137.56 A58.6 58.6 0 0 1 176.53 132.49" fill="none" stroke="#4d32db" stroke-width="2"/><path d="M176.25 132.79 A58.6 58.6 0 0 1 180.89 128.18" fill="none" stroke="#4b31dc" stroke-width="2"/><path d="M180.59 128.45 A58.6 58.6 0 0 1 185.69 124.35" fill="none" stroke="#4d31da" stroke-width="2"/><path d="M185.36 124.59 A58.6 58.6 0 0 1 190.86 121.05" fill="none" stroke="#5d34cb" stroke-width="2"/><path d="M190.50 121.25 A58.6 58.6 0 0 1 196.34 118.30" fill="none" stroke="#6e37bc" stroke-width="2"/><path d="M195.97 118.47 A58.6 58.6 0 0 1 202.08 116.14" fill="none" stroke="#7e3aad" stroke-width="2"/><path d="M201.69 116.27 A58.6 58.6 0 0 1 208.02 114.60" fill="none" stroke="#8f3d9f" stroke-width="2"/><path d="M207.62 114.68 A58.6 58.6 0 0 1 214.08 113.68" fill="none" stroke="#9f4090" stroke-width="2"/><path d="M213.67 113.72 A58.6 58.6 0 0 1 220.21 113.40" fill="none" stroke="#b04381" stroke-width="2"/><g transform="translate(195,143.60000000000002)"><path fill-rule="evenodd" fill="url(#pg)" d="M0 53.6 V0 H21.4 A14 14 0 0 1 21.4 28 H8.5 V53.6 Z M8.5 8 H21.4 A6 6 0 0 1 21.4 20 H8.5 Z"/></g><g transform="translate(222,173.79999999999995)" fill="#1a86f0"><path d="M5.6 0.3 H22 Q23.2 0.3 23.7 1.4 L26.4 8.4 Q27.6 9 27.6 10.8 V18.6 H0 V10.8 Q0 9 1.2 8.4 L3.9 1.4 Q4.4 0.3 5.6 0.3 Z"/><rect x="2.4" y="16" width="5.9" height="7.4" rx="1.6"/><rect x="19.3" y="16" width="5.9" height="7.4" rx="1.6"/><path d="M7 3.6 H20.6 L22.4 8.4 H5.2 Z" fill="#fff"/><circle cx="5.8" cy="13.5" r="2.4" fill="#fff"/><circle cx="21.8" cy="13.5" r="2.4" fill="#fff"/></g><text x="480.5999999999999" y="121.29999999999995" text-anchor="end" font-family="Liberation Sans" font-size="16" fill="#555">半小时内</text><rect x="486.29999999999995" y="111.29999999999995" width="20.3" height="10" rx="3" fill="url(#d1)"/><text x="480.5999999999999" y="147.39999999999998" text-anchor="end" font-family="Liberation Sans" font-size="16" fill="#555">半小时到一小时内</text><rect x="486.29999999999995" y="137.39999999999998" width="20.3" height="10" rx="3" fill="url(#d2)"/><text x="480.5999999999999" y="173.5" text-anchor="end" font-family="Liberation Sans" font-size="16" fill="#555">一小时到三小时</text><rect x="486.29999999999995" y="163.5" width="20.3" height="10" rx="3" fill="url(#d3)"/><text x="480.5999999999999" y="199.5999999999999" text-anchor="end" font-family="Liberation Sans" font-size="16" fill="#555">三小时到六小时</text><rect x="486.29999999999995" y="189.5999999999999" width="20.3" height="10" rx="3" fill="url(#d4)"/><text x="480.5999999999999" y="225.69999999999993" text-anchor="end" font-family="Liberation Sans" font-size="16" fill="#555">六小时以上</text><rect x="486.29999999999995" y="215.69999999999993" width="20.3" height="10" rx="3" fill="url(#d5)"/></svg></div>

</body>
</html>
